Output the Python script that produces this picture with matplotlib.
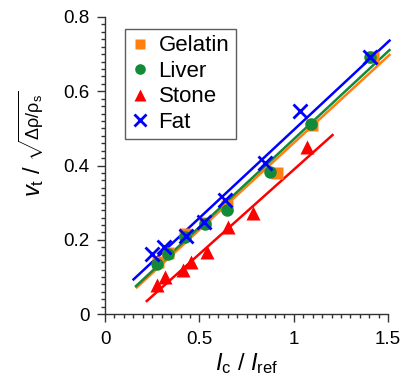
import numpy as np
import matplotlib
matplotlib.use("Agg")
import matplotlib.pyplot as plt
from matplotlib.ticker import MultipleLocator

plt.rcParams['font.family'] = ['Liberation Sans', 'DejaVu Sans']
plt.rcParams['mathtext.fontset'] = 'custom'
plt.rcParams['mathtext.rm'] = 'Liberation Sans'
plt.rcParams['mathtext.it'] = 'Liberation Sans:italic'
plt.rcParams['mathtext.sf'] = 'Liberation Sans'

# Data
gelatin_x = [0.283, 0.335, 0.424, 0.530, 0.645, 0.910, 1.095, 1.418]
gelatin_y = [0.140, 0.165, 0.217, 0.245, 0.291, 0.379, 0.510, 0.691]
liver_x = [0.274, 0.332, 0.424, 0.530, 0.645, 0.874, 1.090, 1.404]
liver_y = [0.136, 0.163, 0.207, 0.242, 0.280, 0.383, 0.511, 0.691]
stone_x = [0.274, 0.318, 0.415, 0.454, 0.542, 0.654, 0.786, 1.069]
stone_y = [0.078, 0.100, 0.119, 0.141, 0.168, 0.235, 0.271, 0.451]
fat_x = [0.247, 0.313, 0.427, 0.525, 0.636, 0.848, 1.033, 1.404]
fat_y = [0.163, 0.181, 0.210, 0.249, 0.307, 0.406, 0.547, 0.693]

# Linear fits: slope, intercept, x-range
fit_slope = {'Gelatin': 0.4675, 'Liver': 0.473, 'Stone': 0.454, 'Fat': 0.474}
fit_icpt = {'Gelatin': -0.0066, 'Liver': -0.002, 'Stone': -0.065, 'Fat': 0.022}
fit_xmin = {'Gelatin': 0.168, 'Liver': 0.164, 'Stone': 0.221, 'Fat': 0.151}
fit_xmax = {'Gelatin': 1.507, 'Liver': 1.507, 'Stone': 1.205, 'Fat': 1.507}

colors = {'Gelatin': '#FF8010', 'Liver': '#138A38', 'Stone': '#FF0000', 'Fat': '#0000FF'}

fig = plt.figure(figsize=(4.01, 3.85), dpi=100)
ax = fig.add_axes([0.262, 0.184, 0.706, 0.772])

for name in ['Gelatin', 'Liver', 'Stone', 'Fat']:
    xs = np.array([fit_xmin[name], fit_xmax[name]])
    ax.plot(xs, fit_slope[name] * xs + fit_icpt[name], color=colors[name], lw=1.8,
            zorder=2, clip_on=False)

ax.plot(gelatin_x, gelatin_y, 's', color=colors['Gelatin'], ms=8.5, mec='none', label='Gelatin', zorder=3)
ax.plot(liver_x, liver_y, 'o', color=colors['Liver'], ms=9, mec='none', label='Liver', zorder=4)
ax.plot(stone_x, stone_y, '^', color=colors['Stone'], ms=9.5, mec='none', label='Stone', zorder=4)
ax.plot(fat_x, fat_y, 'x', color=colors['Fat'], ms=10, mew=2, label='Fat', zorder=5)

ax.set_xlim(0, 1.5)
ax.set_ylim(0, 0.8)
ax.set_xticks([0, 0.5, 1, 1.5])
ax.set_xticklabels(['0', '0.5', '1', '1.5'])
ax.set_yticks([0, 0.2, 0.4, 0.6, 0.8])
ax.set_yticklabels(['0', '0.2', '0.4', '0.6', '0.8'])
ax.xaxis.set_minor_locator(MultipleLocator(0.05))
ax.yaxis.set_minor_locator(MultipleLocator(0.02))
ax.tick_params(which='major', direction='out', length=6, width=1, labelsize=13.5, color='#333333')
ax.tick_params(axis='x', which='major', pad=6)
ax.tick_params(axis='y', which='major', pad=5)
ax.tick_params(which='minor', direction='out', length=3, width=1, color='#333333')
for s in ['top', 'right']:
    ax.spines[s].set_visible(False)
for s in ['left', 'bottom']:
    ax.spines[s].set_linewidth(1)
    ax.spines[s].set_color('#333333')

ax.set_xlabel(r'$I_\mathrm{c}$ / $I_\mathrm{ref}$', fontsize=17, labelpad=2)

# y label in two parts sharing one baseline: large "v_t /" and smaller square-root term
base_x = 40 / 401
t1 = fig.text(base_x, 1 - 197 / 385, r'$v_\mathrm{t}$ /', rotation=90, fontsize=17,
              rotation_mode='anchor', ha='left', va='baseline')
fig.canvas.draw()
bb = t1.get_window_extent(fig.canvas.get_renderer())
top_frac = bb.y1 / fig.bbox.height
fig.text(base_x, top_frac + 4 / 385, r'$\sqrt{\Delta\mathrm{\rho}/\mathrm{\rho}_\mathrm{s}}$',
         rotation=90, fontsize=13, rotation_mode='anchor', ha='left', va='baseline')

leg = ax.legend(loc='upper left', bbox_to_anchor=(0.071, 0.96), fontsize=16, frameon=True,
                fancybox=False, edgecolor='#333333', handlelength=0.7, handletextpad=0.5,
                borderpad=0.3, labelspacing=0.2, borderaxespad=0, markerscale=0.85)
leg.get_frame().set_linewidth(1)

fig.savefig('out.png', dpi=100)
